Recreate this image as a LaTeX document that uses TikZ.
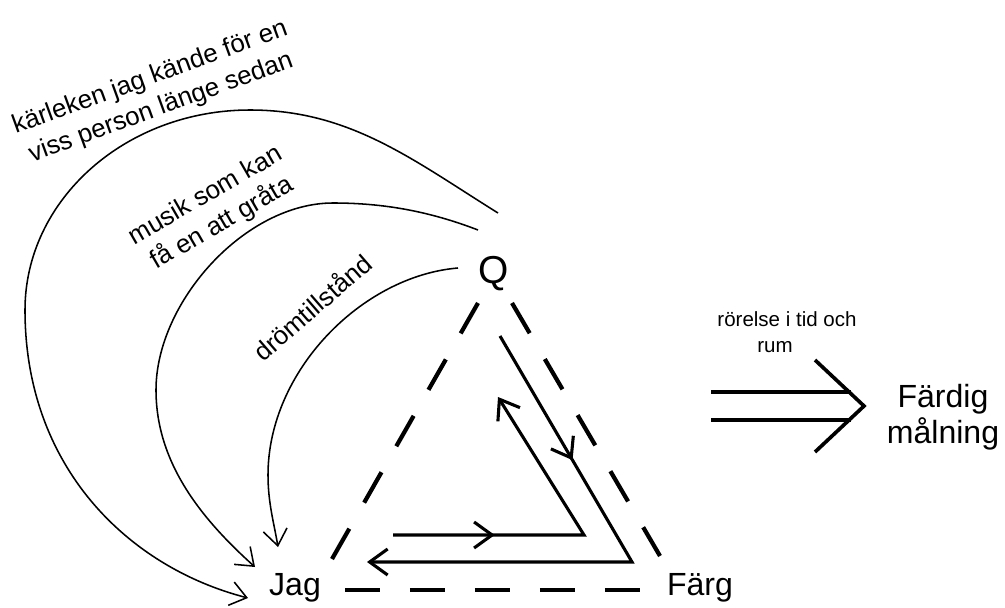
\documentclass[tikz,border=0pt]{standalone}
\usepackage{fontspec}
\setmainfont{Liberation Sans}
\usepackage{tikz}
\usetikzlibrary{positioning,calc,arrows.meta,decorations.markings}

\begin{document}
\begin{tikzpicture}[
		dashside/.style={line width=3pt,dash pattern=on 24.9pt off 21.3pt},
		flow/.style={line width=2.2pt,line join=miter},
		swoop/.style={line width=1.1pt,-{Straight Barb[length=0.4cm,width=0.6cm,line width=1.1pt]}},
		lbl/.style={inner sep=0pt,align=center,font=\fontsize{18.4}{22.8}\selectfont},
		big/.style={inner sep=0pt,font=\fontsize{22.8}{25.6}\selectfont}]
		\useasboundingbox (0,0) rectangle (25.125,15.175);
		% the three corners
		\node[inner sep=0pt,anchor=base,font=\fontsize{27.7}{30}\selectfont] (q) at (12.35,8.1) {Q};
		\node[big,anchor=base] (jag) at (7.375,0.3) {Jag};
		\node[big,anchor=base] (farg) at (17.5,0.3) {Färg};
		\node[big,align=center] (malning) at (23.575,4.75) {Färdig\\målning};
		\node[inner sep=0pt,align=center,font=\fontsize{14.6}{18.5}\selectfont] (rorelse) at (19.675,6.86) {rörelse i tid och\\rum\hspace*{17pt}};
		
		% dashed triangle
		\coordinate (qj) at (11.95,7.6);
		\coordinate (jq) at (8.3,1.2);
		\coordinate (qf) at (12.8,7.6);
		\coordinate (fq) at (16.5,1.275);
		\coordinate (jf) at (8.625,0.425);
		\coordinate (fj) at (16.0,0.425);
		\draw[dashside] (qj)--(jq);
		\draw[dashside] (qf)--(fq);
		\draw[dashside] (jf)--(fj);
		
		% the two circuits
		\coordinate (outa) at (12.5,6.775);
		\coordinate (outb) at (15.8,1.125);
		\coordinate (outc) at (9.175,1.125);
		\draw[flow,-{Straight Barb[length=0.45cm,width=0.65cm,line width=2.2pt]},
			postaction={decorate,decoration={markings,mark=at position 0.273 with {\arrow{Straight Barb[length=0.45cm,width=0.65cm,line width=2.2pt]}}}}]
			(outa)--(outb)--(outc);
		\coordinate (ina) at (9.825,1.8);
		\coordinate (inb) at (14.6,1.8);
		\coordinate (inc) at (12.45,5.25);
		\draw[flow,-{Straight Barb[length=0.45cm,width=0.65cm,line width=2.2pt]},
			postaction={decorate,decoration={markings,mark=at position 0.288 with {\arrow{Straight Barb[length=0.45cm,width=0.65cm,line width=2.2pt]}}}}]
			(ina)--(inb)--(inc);
		
		% curves from Q to Jag
		\coordinate (q1) at (12.45,9.85);
		\coordinate (q2) at (11.95,9.425);
		\coordinate (q3) at (11.45,8.475);
		\coordinate (j1) at (6.2,0.225);
		\coordinate (j2) at (6.375,1.0);
		\coordinate (j3) at (6.95,1.5);
		\draw[swoop] (q1) .. controls (10.33,11.17) and (8.75,12.425) .. (6.25,12.425)
			.. controls (3.145,12.425) and (0.625,10.185) .. (0.625,7.425)
			.. controls (0.625,3.5) and (3.2,1.0) .. (j1);
		\draw[swoop] (q2) .. controls (10.74,9.89) and (9.6,10.1) .. (8.325,10.1)
			.. controls (6.125,10.1) and (3.9,7.625) .. (3.9,5.425)
			.. controls (3.9,3.6) and (5.04,2.2) .. (j2);
		\draw[swoop] (q3) .. controls (9.05,8.275) and (6.7,5.9) .. (6.7,3.3)
			.. controls (6.7,2.6) and (6.85,2.1) .. (j3);
		\node[lbl,rotate=20] (karlek) at (3.89,12.85) {kärleken jag kände för en\\viss person länge sedan};
		\node[lbl,rotate=30] (musik) at (5.35,9.925) {musik som kan\\få en att gråta};
		\node[lbl,rotate=41] (drom) at (7.8,7.5) {drömtillstånd};
		
		% double arrow
		\coordinate (ds1) at (17.775,5.375);
		\coordinate (de1) at (21.28,5.375);
		\coordinate (ds2) at (17.775,4.675);
		\coordinate (de2) at (21.28,4.675);
		\coordinate (tip) at (21.6,5.025);
		\draw[line width=2.6pt] (ds1)--(de1);
		\draw[line width=2.6pt] (ds2)--(de2);
		\draw[line width=2.6pt,line join=miter] (20.375,6.175)--(tip)--(20.375,3.875);
	\end{tikzpicture}
\end{document}
